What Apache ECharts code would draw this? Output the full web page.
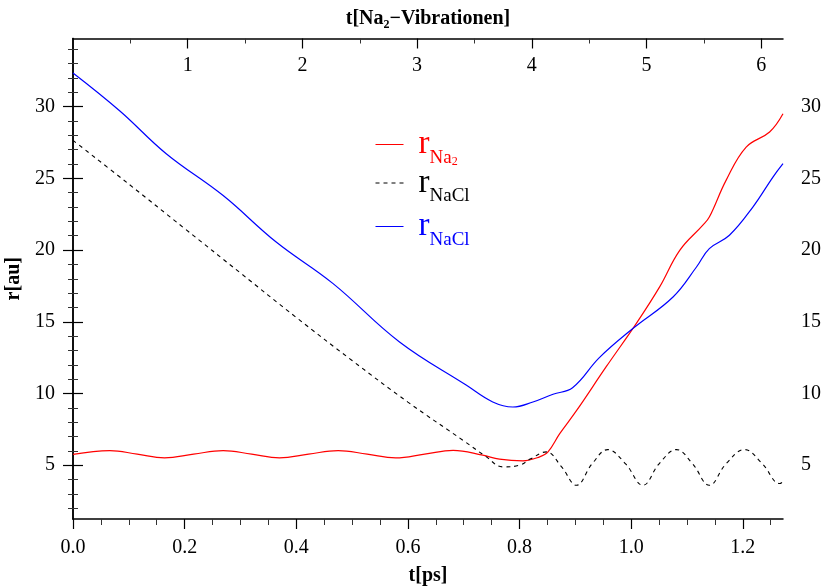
<!DOCTYPE html>
<html>
<head>
<meta charset="utf-8">
<script src="https://cdn.jsdelivr.net/npm/echarts@6/dist/echarts.min.js"></script>
<style>
html,body{margin:0;padding:0;background:#fff;}
#chart{width:824px;height:586px;}
</style>
</head>
<body>
<div id="chart"></div>
<script>
// r(t), t in ps, r in au
var na2Points = [
  [0, 5.75], [0.066, 6.02], [0.115, 5.77], [0.164, 5.51], [0.216, 5.77],
  [0.269, 6.02], [0.32, 5.77], [0.370, 5.51], [0.422, 5.77], [0.475, 6.02],
  [0.527, 5.77], [0.578, 5.51], [0.63, 5.77], [0.681, 6.04], [0.734, 5.70],
  [0.764, 5.42], [0.806, 5.30], [0.836, 5.58], [0.851, 5.93], [0.872, 7.2],
  [0.902, 8.8], [0.955, 11.85], [1.009, 14.87], [1.051, 17.43], [1.087, 19.98],
  [1.128, 21.72], [1.140, 22.3], [1.170, 24.86], [1.206, 27.18], [1.248, 28.23],
  [1.272, 29.5]
]
var naclDashPoints = [
  [0, 27.65], [0.1, 24.6], [0.2, 21.5], [0.3, 18.4], [0.4, 15.3],
  [0.5, 12.3], [0.6, 9.4], [0.7, 6.7], [0.74, 5.6],
  [0.77, 4.88], [0.80, 5.0], [0.82, 5.45], [0.848, 5.93], [0.875, 4.9],
  [0.902, 3.6], [0.93, 5.1], [0.958, 6.09], [0.99, 5.1], [1.021, 3.6],
  [1.05, 5.1], [1.081, 6.09], [1.11, 5.1], [1.14, 3.6], [1.17, 5.1],
  [1.203, 6.09], [1.235, 5.1], [1.266, 3.72], [1.272, 3.85]
]
var naclPoints = [
  [0, 32.35], [0.084, 29.7], [0.167, 26.72], [0.269, 23.8], [0.364, 20.56],
  [0.466, 17.66], [0.585, 13.59], [0.705, 10.57], [0.752, 9.41], [0.788, 9.06],
  [0.824, 9.41], [0.86, 9.95], [0.895, 10.4], [0.943, 12.5], [1.003, 14.53],
  [1.075, 16.73], [1.117, 18.82], [1.140, 20.1], [1.176, 21.03], [1.218, 23.0],
  [1.254, 25.09], [1.272, 26.02]
]

var seriesNames = ['rNa2', 'rNaClDash', 'rNaCl']
var legendLabels = ['{r1|r}{s1|Na}{t1|2}', '{r2|r}{s2|NaCl}', '{r3|r}{s3|NaCl}']
var legendTops = [128, 166.5, 210]

var tTicks = [0, 0.2, 0.4, 0.6, 0.8, 1.0, 1.2]
var vibTicks = [1, 2, 3, 4, 5, 6]
var rTicks = [5, 10, 15, 20, 25, 30]

var tMax = 1.272
var vibPeriod = 0.2055
var rMin = 1.25, rMax = 34.75

function minorOf(from, to, step, majorStep) {
    var out = []
    for (var v = from; v <= to + 1e-9; v += step) {
        var k = Math.round(v / majorStep * 1000) / 1000
        if (Math.abs(k - Math.round(k)) > 1e-6) out.push(Math.round(v * 1000) / 1000)
    }
    return out
}

var font = 'Liberation Serif'
var black = '#000'
var axisLine = { show: true, lineStyle: { color: black, width: 1.5 } }
var tickLine = { color: black, width: 1.2 }
var minorLine = { color: '#333', width: 1 }
var labelStyle = { color: black, fontFamily: font, fontSize: 20 }
var nameStyle = { color: black, fontFamily: font, fontSize: 20, fontWeight: 'bold' }

function richSet(color) {
    return {
        r: { color: color, fontFamily: font, fontSize: 33, lineHeight: 46 },
        s: { color: color, fontFamily: font, fontSize: 19, lineHeight: 18, verticalAlign: 'bottom' },
        t: { color: color, fontFamily: font, fontSize: 12, lineHeight: 12, verticalAlign: 'bottom' }
    }
}
var rich = {}
;[['1', '#ff0000'], ['2', '#000000'], ['3', '#0000ff']].forEach(function (p) {
    var s = richSet(p[1])
    rich['r' + p[0]] = s.r
    rich['s' + p[0]] = s.s
    rich['t' + p[0]] = s.t
})

// one legend box per row so the rows sit where they do in the picture
var legends = seriesNames.map(function (name, i) {
    return {
        orient: 'vertical',
        left: 375,
        top: legendTops[i],
        padding: 0,
        itemWidth: 28,
        itemHeight: 14,
        data: [name],
        selectedMode: false,
        itemStyle: { opacity: 0 },
        lineStyle: { width: 1 },
        formatter: function (n) {
            return legendLabels[seriesNames.indexOf(n)]
        },
        textStyle: { fontFamily: font, padding: [0, 0, 0, 10], rich: rich }
    }
})

var option = {
    backgroundColor: '#fff',
    animation: false,
    grid: { left: 73, right: 41, top: 38.5, bottom: 67, containLabel: false, outerBoundsMode: 'none' },
    legend: legends,
    xAxis: [
        {
            type: 'value', position: 'bottom', min: 0, max: tMax,
            name: 't[ps]', nameLocation: 'middle', nameGap: 47, nameTextStyle: nameStyle,
            axisLine: axisLine,
            axisTick: { customValues: tTicks, length: 10, lineStyle: tickLine },
            axisLabel: {
                customValues: tTicks, margin: 19, color: black, fontFamily: font, fontSize: 20,
                formatter: function (v) { return v.toFixed(1) }
            },
            splitLine: { show: false }
        },
        {
            type: 'value', position: 'bottom', min: 0, max: tMax,
            axisLine: { show: false },
            axisTick: { customValues: minorOf(0, 1.25, 0.05, 0.2), length: 6, lineStyle: minorLine },
            axisLabel: { show: false },
            splitLine: { show: false }
        },
        {
            type: 'value', position: 'top', min: 0, max: tMax / vibPeriod,
            name: '{b|t[Na}{sub|2}{b|\u2212Vibrationen]}', nameLocation: 'middle', nameGap: 8,
            nameTextStyle: {
                rich: {
                    b: { color: black, fontFamily: font, fontSize: 20, fontWeight: 'bold', lineHeight: 22, verticalAlign: 'top' },
                    sub: { color: black, fontFamily: font, fontSize: 12, fontWeight: 'bold', lineHeight: 12, verticalAlign: 'bottom' }
                }
            },
            axisLine: axisLine,
            axisTick: { customValues: vibTicks, inside: true, length: 10, lineStyle: tickLine },
            axisLabel: { customValues: vibTicks, inside: true, margin: 17, color: black, fontFamily: font, fontSize: 20 },
            splitLine: { show: false }
        },
        {
            type: 'value', position: 'top', min: 0, max: tMax / vibPeriod,
            axisLine: { show: false },
            axisTick: { customValues: minorOf(0.5, 6, 0.5, 1), inside: true, length: 5, lineStyle: minorLine },
            axisLabel: { show: false },
            splitLine: { show: false }
        }
    ],
    yAxis: [
        {
            type: 'value', position: 'left', min: rMin, max: rMax,
            name: 'r[au]', nameLocation: 'middle', nameGap: 38, nameRotate: 90, nameTextStyle: nameStyle,
            axisLine: axisLine,
            axisTick: { customValues: rTicks, length: 10, lineStyle: tickLine },
            axisLabel: Object.assign({ customValues: rTicks, margin: 18 }, labelStyle),
            splitLine: { show: false }
        },
        {
            type: 'value', position: 'left', min: rMin, max: rMax,
            axisLine: { show: false },
            axisTick: { customValues: minorOf(2, 34, 1, 5), length: 5, lineStyle: minorLine },
            axisLabel: { show: false },
            splitLine: { show: false }
        },
        {
            type: 'value', position: 'right', min: rMin, max: rMax,
            axisLine: axisLine,
            axisTick: { customValues: rTicks, length: 10, lineStyle: tickLine },
            axisLabel: Object.assign({ customValues: rTicks, margin: 18 }, labelStyle),
            splitLine: { show: false }
        },
        {
            type: 'value', position: 'right', min: rMin, max: rMax,
            axisLine: { show: false },
            axisTick: { customValues: minorOf(2, 34, 1, 5), length: 5, lineStyle: minorLine },
            axisLabel: { show: false },
            splitLine: { show: false }
        }
    ],
    series: [
        {
            name: seriesNames[0], type: 'line', data: na2Points, smooth: 0.4, symbol: 'none',
            lineStyle: { color: '#ff0000', width: 1.2 }, itemStyle: { color: '#ff0000' }
        },
        {
            name: seriesNames[1], type: 'line', data: naclDashPoints, smooth: 0.4, symbol: 'none',
            lineStyle: { color: '#000000', width: 1.1, type: [4, 4] }, itemStyle: { color: '#000000' }
        },
        {
            name: seriesNames[2], type: 'line', data: naclPoints, smooth: 0.4, symbol: 'none',
            lineStyle: { color: '#0000ff', width: 1.2 }, itemStyle: { color: '#0000ff' }
        }
    ]
}

var chart = echarts.init(document.getElementById('chart'))
chart.setOption(option)
</script>
</body>
</html>
